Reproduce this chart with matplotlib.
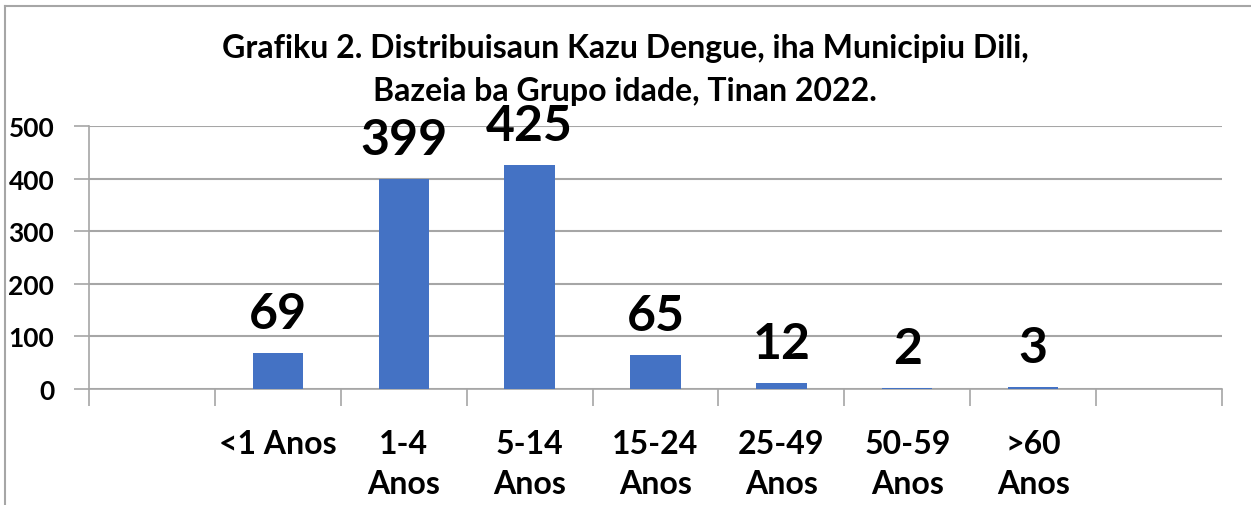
import matplotlib
matplotlib.use("Agg")
import matplotlib.pyplot as plt
from matplotlib.lines import Line2D

# data
categories = ["", "<1 Anos", "1-4\nAnos", "5-14\nAnos", "15-24\nAnos",
              "25-49\nAnos", "50-59\nAnos", ">60\nAnos", ""]
cases = [None, 69, 399, 425, 65, 12, 2, 3, None]
y_ticks = [0, 100, 200, 300, 400, 500]

title = ("Grafiku 2. Distribuisaun Kazu Dengue, iha Municipiu Dili,\n"
         "Bazeia ba Grupo idade, Tinan 2022.")

plt.rcParams['font.family'] = ['Lato', 'DejaVu Sans']

W, H = 1251, 506
fig = plt.figure(figsize=(W / 100, H / 100), dpi=100)
ax = fig.add_axes([89 / W, 1 - 390 / H, (1222 - 89) / W, (390 - 127) / H])

grey = '#a6a6a6'
bar_colour = '#4472C4'

# bars in the slots that have values
for i, v in enumerate(cases):
    if v is None:
        continue
    ax.bar(i + 0.5, v, width=0.4, color=bar_colour, zorder=3)
    ax.annotate(str(v), (i + 0.5, v), xytext=(0, 18), textcoords='offset points',
                ha='center', va='baseline', fontsize=36, fontweight='bold')

ax.set_xlim(0, len(categories))
ax.set_ylim(0, 500)
ax.set_yticks(y_ticks)
ax.set_yticklabels([str(t) for t in y_ticks], fontsize=19, fontweight='bold')

# category ticks on the slot borders, labels in the middle
ax.set_xticks(range(len(categories) + 1))
ax.set_xticklabels([])
ax.set_xticks([i + 0.5 for i in range(len(categories))], minor=True)
ax.set_xticklabels(categories, minor=True, fontsize=23, fontweight='bold',
                   linespacing=1.45)
ax.tick_params(axis='x', which='minor', length=0, pad=29)
ax.tick_params(axis='x', which='major', length=12, color=grey, width=1.2)
ax.tick_params(axis='y', length=11, color=grey, width=1.2, pad=14)

ax.grid(axis='y', color=grey, linewidth=1.5, zorder=0)
for s in ['top', 'right']:
    ax.spines[s].set_visible(False)
for s in ['left', 'bottom']:
    ax.spines[s].set_color(grey)
    ax.spines[s].set_linewidth(1.2)

fig.text(625 / W, 1 - 70 / H, title, ha='center', va='center', fontsize=23,
         fontweight='bold', linespacing=1.55)

# outer chart frame (cropped at right and bottom)
fig.add_artist(Line2D([5 / W, 5 / W], [0, 1 - 7 / H], color=grey, linewidth=1.5))
fig.add_artist(Line2D([5 / W, 1], [1 - 7 / H, 1 - 7 / H], color=grey, linewidth=1.5))

fig.savefig("out.png", dpi=100)
